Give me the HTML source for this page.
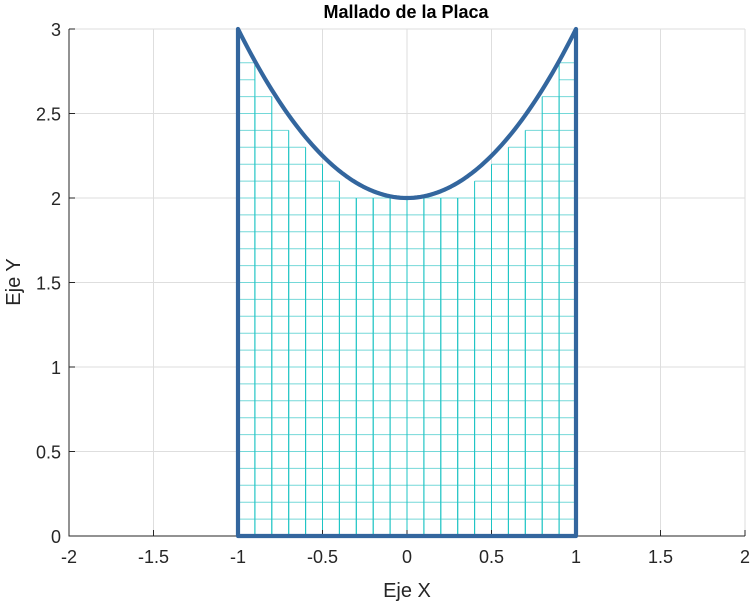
<!DOCTYPE html>
<html><head><meta charset="utf-8"><style>
html,body{margin:0;padding:0;background:#fff;}
svg text{font-family:"Liberation Sans",sans-serif;}
</style></head><body>
<svg id="s" width="754" height="603" xmlns="http://www.w3.org/2000/svg">
<rect width="754" height="603" fill="#fff"/>
<g id="grid" stroke="#dedede" stroke-width="1"></g>
<g id="mesh" stroke-width="1" fill="none"></g>
<g id="ax" stroke="#262626" stroke-width="1" fill="none"></g>
<g id="lbl" fill="#262626" font-size="18"></g>
<path id="curve" fill="none" stroke="#33669e" stroke-width="4.2" stroke-linejoin="round"/>
<text x="406" y="18" text-anchor="middle" font-size="18" font-weight="bold" fill="#000">Mallado de la Placa</text>
<text x="407" y="597" text-anchor="middle" font-size="20" fill="#262626">Eje X</text>
<text transform="translate(20,282) rotate(-90)" text-anchor="middle" font-size="20" fill="#262626">Eje Y</text>
</svg>
<script>
var X0=69,X1=745,Y0=536,Y1=29;
function px(x){return X0+(x+2)/4*(X1-X0);}
function py(y){return Y0-y/3*(Y0-Y1);}
var ns="http://www.w3.org/2000/svg";
function el(p,t,a){var e=document.createElementNS(ns,t);for(var k in a)e.setAttribute(k,a[k]);p.appendChild(e);return e;}
var g=document.getElementById('grid'),l=document.getElementById('lbl'),ax=document.getElementById('ax'),m=document.getElementById('mesh');
for(var i=-4;i<=4;i++){var x=px(i/2);el(g,'line',{x1:x,x2:x,y1:Y1,y2:Y0});
 el(ax,'line',{x1:x,x2:x,y1:Y0,y2:Y0-6});
 var t=el(l,'text',{x:x,y:Y0+27,'text-anchor':'middle'});t.textContent=(i/2).toString();}
for(var j=0;j<=6;j++){var y=py(j/2);el(g,'line',{x1:X0,x2:X1,y1:y,y2:y});
 el(ax,'line',{x1:X0,x2:X0+6,y1:y,y2:y});
 var t=el(l,'text',{x:X0-8,y:y+7,'text-anchor':'end'});t.textContent=(j/2).toString();}
el(ax,'path',{d:'M'+X0+','+Y1+' L'+X0+','+Y0+' L'+X1+','+Y0});
function f(x){return x*x+2;}
for(var c=-10;c<10;c++){var a=c/10,b=(c+1)/10;var h=Math.floor(10*Math.min(f(a),f(b))+1e-6);
 for(var r=0;r<=h;r++){el(m,'line',{x1:px(a),x2:px(b),y1:py(r/10),y2:py(r/10),stroke:'#74d8d8'});}
 el(m,'line',{x1:px(a),x2:px(a),y1:py(0),y2:py(h/10),stroke:'#1cc4c4'});
 el(m,'line',{x1:px(b),x2:px(b),y1:py(0),y2:py(h/10),stroke:'#1cc4c4'});}
var d='M'+px(-1)+','+py(0)+' L'+px(-1)+','+py(3);
for(var k=-50;k<=50;k++){var x=k/50;d+=' L'+px(x)+','+py(f(x));}
d+=' L'+px(1)+','+py(0)+' Z';
document.getElementById('curve').setAttribute('d',d);
</script>
</body></html>
